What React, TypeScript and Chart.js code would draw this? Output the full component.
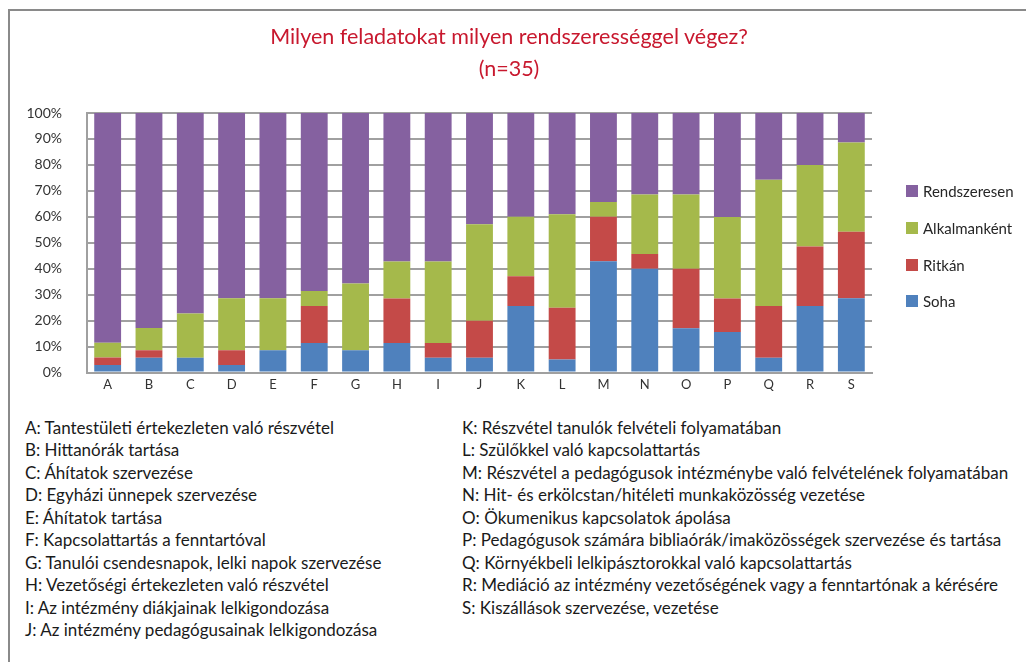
import React, { useEffect, useRef } from "react";
import { Chart, registerables } from "chart.js";

Chart.register(...registerables);

const categories = ["A","B","C","D","E","F","G","H","I","J","K","L","M","N","O","P","Q","R","S"];

const seriesNames = ["Soha", "Ritkán", "Alkalmanként", "Rendszeresen"];

const soha = [2.9, 5.7, 5.7, 2.9, 8.6, 11.4, 8.6, 11.4, 5.7, 5.7, 25.7, 5.0, 42.9, 40.0, 17.1, 15.6, 5.7, 25.7, 28.6];
const ritkan = [2.9, 2.9, 0, 5.7, 0, 14.3, 0, 17.1, 5.7, 14.3, 11.4, 20.0, 17.1, 5.7, 22.9, 12.9, 20.0, 22.9, 25.7];
const alkalmankent = [5.7, 8.6, 17.1, 20.0, 20.0, 5.7, 25.7, 14.3, 31.4, 37.1, 22.9, 36.0, 5.7, 22.9, 28.6, 31.4, 48.6, 31.4, 34.3];
const rendszeresen = [88.5, 82.8, 77.2, 71.4, 71.4, 68.6, 65.7, 57.2, 57.2, 42.9, 40.0, 39.0, 34.3, 31.4, 31.4, 40.1, 25.7, 20.0, 11.4];

const seriesColors = ["#4f81bd", "#c44a48", "#a5b94b", "#8561a0"];

const yTicks = [0, 10, 20, 30, 40, 50, 60, 70, 80, 90, 100];

const titleLines = ["Milyen feladatokat milyen rendszerességgel végez?", "(n=35)"];

const descLeft = [
  "A: Tantestületi értekezleten való részvétel",
  "B: Hittanórák tartása",
  "C: Áhítatok szervezése",
  "D: Egyházi ünnepek szervezése",
  "E: Áhítatok tartása",
  "F: Kapcsolattartás a fenntartóval",
  "G: Tanulói csendesnapok, lelki napok szervezése",
  "H: Vezetőségi értekezleten való részvétel",
  "I: Az intézmény diákjainak lelkigondozása",
  "J: Az intézmény pedagógusainak lelkigondozása",
];

const descRight = [
  "K: Részvétel tanulók felvételi folyamatában",
  "L: Szülőkkel való kapcsolattartás",
  "M: Részvétel a pedagógusok intézménybe való felvételének folyamatában",
  "N: Hit- és erkölcstan/hitéleti munkaközösség vezetése",
  "O: Ökumenikus kapcsolatok ápolása",
  "P: Pedagógusok számára bibliaórák/imaközösségek szervezése és tartása",
  "Q: Környékbeli lelkipásztorokkal való kapcsolattartás",
  "R: Mediáció az intézmény vezetőségének vagy a fenntartónak a kérésére",
  "S: Kiszállások szervezése, vezetése",
];

const FONT = "Lato, 'Noto Sans', sans-serif";
const CANVAS_H = 406;

export default function App() {
  const canvasRef = useRef<HTMLCanvasElement | null>(null);

  useEffect(() => {
    if (!canvasRef.current) return;
    const values = [soha, ritkan, alkalmankent, rendszeresen];
    const chart = new Chart(canvasRef.current, {
      type: "bar",
      data: {
        labels: categories,
        datasets: seriesNames.map((name, i) => ({
          label: name,
          data: values[i],
          backgroundColor: seriesColors[i],
          borderWidth: 0,
          barPercentage: 0.65,
          categoryPercentage: 1.0,
        })),
      },
      options: {
        animation: false,
        responsive: false,
        maintainAspectRatio: false,
        devicePixelRatio: 1,
        layout: { padding: { left: 0, top: 113, right: 154, bottom: 3 } },
        plugins: {
          legend: { display: false },
          title: { display: false },
          tooltip: { enabled: false },
        },
        scales: {
          x: {
            stacked: true,
            grid: { display: false, drawTicks: false },
            border: { display: true, color: "#a0a0a0", width: 2 },
            ticks: {
              padding: 4,
              color: "#333333",
              font: { family: FONT, size: 13 },
              maxRotation: 0,
              autoSkip: false,
            },
            afterFit: (s: any) => {
              s.height = 20;
            },
          },
          y: {
            stacked: true,
            min: 0,
            max: 100,
            afterBuildTicks: (s: any) => {
              s.ticks = yTicks.map((v) => ({ value: v }));
            },
            grid: { color: "#a0a0a0", lineWidth: 2, drawTicks: false },
            border: { display: true, color: "#a0a0a0", width: 2 },
            ticks: {
              padding: 25,
              color: "#333333",
              font: { family: FONT, size: 14 },
              callback: (v: any) => v + "%",
            },
            afterFit: (s: any) => {
              s.width = 87;
            },
          },
        },
      },
    });
    return () => chart.destroy();
  }, []);

  const legendItems = [...seriesNames].map((n, i) => ({ n, c: seriesColors[i] })).reverse();

  return (
    <div
      style={{
        position: "absolute",
        left: 0,
        top: 0,
        width: 1026,
        height: 662,
        overflow: "hidden",
        background: "#ffffff",
        fontFamily: FONT,
      }}
    >
      <div
        style={{
          position: "absolute",
          left: 8,
          top: 9,
          width: 1200,
          height: 800,
          border: "2px solid #8a8a8a",
          boxSizing: "border-box",
        }}
      />
      <canvas
        ref={canvasRef}
        width={1026}
        height={CANVAS_H}
        style={{ position: "absolute", left: 0, top: 0, width: 1026, height: CANVAS_H }}
      />
      <div
        style={{
          position: "absolute",
          left: 209,
          top: 20,
          width: 600,
          textAlign: "center",
          color: "#c8182e",
          fontSize: 21.5,
          lineHeight: "32px",
        }}
      >
        {titleLines.map((t) => (
          <div key={t}>{t}</div>
        ))}
      </div>
      {legendItems.map((it, i) => (
        <div
          key={it.n}
          style={{
            position: "absolute",
            left: 906,
            top: 191 + i * 36.8 - 10,
            height: 20,
            display: "flex",
            alignItems: "center",
            fontSize: 15,
            color: "#262626",
            whiteSpace: "nowrap",
          }}
        >
          <span style={{ display: "inline-block", width: 12, height: 12, background: it.c, marginRight: 5 }} />
          <span>{it.n}</span>
        </div>
      ))}
      <div style={{ position: "absolute", left: 25, top: 416.75, fontSize: 17, lineHeight: "22.5px", color: "#1a1a1a", whiteSpace: "nowrap" }}>
        {descLeft.map((t) => (
          <div key={t}>{t}</div>
        ))}
      </div>
      <div style={{ position: "absolute", left: 462, top: 416.75, fontSize: 17, lineHeight: "22.5px", color: "#1a1a1a", whiteSpace: "nowrap" }}>
        {descRight.map((t) => (
          <div key={t}>{t}</div>
        ))}
      </div>
    </div>
  );
}
